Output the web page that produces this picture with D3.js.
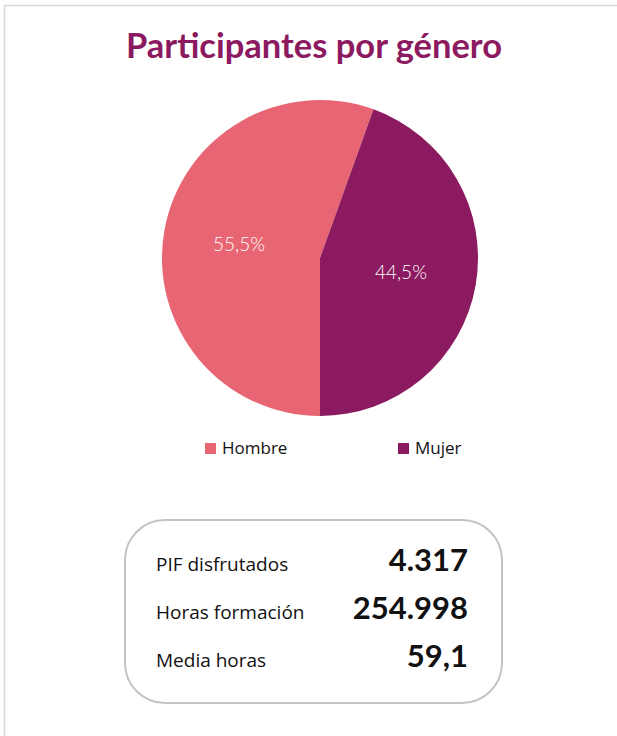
<!DOCTYPE html>
<html lang="es">
<head>
<meta charset="UTF-8">
<title>Participantes por género</title>
<script src="https://d3js.org/d3.v7.min.js"></script>
<style>
  body { margin: 0; background: #fff; }
  svg { display: block; font-family: Lato, "Open Sans", sans-serif; }
</style>
</head>
<body>
<script>
// datos
var categories = ["Hombre", "Mujer"];
var values = [55.5, 44.5];
var statLabels = ["PIF disfrutados", "Horas formación", "Media horas"];
var statValues = ["4.317", "254.998", "59,1"];

var width = 617, height = 736;
var colors = ["#e86673", "#8c1a60"];

var svg = d3.select("body").append("svg")
    .attr("width", width)
    .attr("height", height);

// marco gris
svg.append("path")
    .attr("d", "M4.5,736 V5.5 H617")
    .attr("fill", "none")
    .attr("stroke", "#d9d9d9")
    .attr("stroke-width", 1.5);

svg.append("text")
    .attr("x", 314)
    .attr("y", 58)
    .attr("text-anchor", "middle")
    .attr("fill", "#8c1a60")
    .style("font-size", "34.5px")
    .style("font-weight", "bold")
    .text("Participantes por género");

var cx = 320, cy = 258, r = 158;
var color = d3.scaleOrdinal(categories, colors);

var pie = d3.pie()
    .value(function (d, i) { return values[i]; })
    .sort(null)
    .startAngle(Math.PI)
    .endAngle(3 * Math.PI);

var arc = d3.arc().innerRadius(0).outerRadius(r);
var labelArc = d3.arc().innerRadius(r * 0.52).outerRadius(r * 0.52);

var g = svg.append("g").attr("transform", "translate(" + cx + "," + cy + ")");
var arcs = pie(categories);

g.selectAll("path")
    .data(arcs)
    .enter().append("path")
    .attr("d", arc)
    .attr("fill", function (d) { return color(d.data); });

g.selectAll("text")
    .data(arcs)
    .enter().append("text")
    .attr("transform", function (d) { return "translate(" + labelArc.centroid(d) + ")"; })
    .attr("text-anchor", "middle")
    .attr("dy", "0.35em")
    .attr("fill", "#fff")
    .style("font-size", "19px")
    .style("font-weight", "300")
    .text(function (d, i) { return String(values[i]).replace(".", ",") + "%"; });

// leyenda
var legendX = d3.scalePoint().domain(categories).range([205, 398]);
var legend = svg.selectAll("g.legend")
    .data(categories)
    .enter().append("g")
    .attr("class", "legend")
    .attr("transform", function (d) { return "translate(" + legendX(d) + ",443)"; });
legend.append("rect")
    .attr("width", 11).attr("height", 11)
    .attr("fill", function (d) { return color(d); });
legend.append("text")
    .attr("x", 17).attr("y", 11)
    .attr("fill", "#111")
    .style("font-family", "'Open Sans', sans-serif")
    .style("font-size", "17px")
    .text(function (d) { return d; });

// recuadro de resumen
svg.append("rect")
    .attr("x", 125).attr("y", 520)
    .attr("width", 377).attr("height", 183)
    .attr("rx", 40).attr("ry", 40)
    .attr("fill", "#fff")
    .attr("stroke", "#c4c4c4")
    .attr("stroke-width", 2);

var rowY = d3.scalePoint().domain(statLabels).range([571, 667]);
svg.selectAll("text.stat-label")
    .data(statLabels)
    .enter().append("text")
    .attr("class", "stat-label")
    .attr("x", 156)
    .attr("y", function (d) { return rowY(d); })
    .attr("fill", "#111")
    .style("font-family", "'Open Sans', sans-serif")
    .style("font-size", "19px")
    .text(function (d) { return d; });

svg.selectAll("text.stat-value")
    .data(statValues)
    .enter().append("text")
    .attr("class", "stat-value")
    .attr("x", 468)
    .attr("y", function (d, i) { return rowY(statLabels[i]); })
    .attr("text-anchor", "end")
    .attr("fill", "#111")
    .style("font-size", "31px")
    .style("font-weight", "bold")
    .text(function (d) { return d; });
</script>
</body>
</html>
